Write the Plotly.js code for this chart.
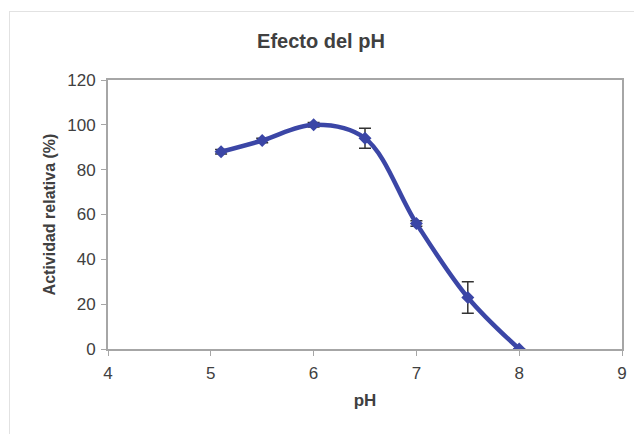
<!DOCTYPE html>
<html>
<head>
<meta charset="utf-8">
<script src="https://cdn.plot.ly/plotly-3.0.1.min.js"></script>
<style>
html,body{margin:0;padding:0;background:#fff;}
#frame{position:absolute;left:9px;top:11px;width:700px;height:500px;border:1px solid #e2e2e2;pointer-events:none;z-index:5;}
#chart{width:634px;height:434px;}
</style>
</head>
<body>
<div id="frame"></div>
<div id="chart"></div>
<script>
var phValues = [5.1, 5.5, 6, 6.5, 7, 7.5, 8];
var activity = [88, 93, 100, 94, 56, 23, 0];
var errors = [1, 1, 1, 4.5, 1.2, 7, 0];
var xTicks = [4, 5, 6, 7, 8, 9];
var yTicks = [0, 20, 40, 60, 80, 100, 120];

var trace = {
  x: phValues,
  y: activity,
  type: 'scatter',
  mode: 'lines+markers',
  line: {color: '#3b46a6', width: 4.5, shape: 'spline', smoothing: 1},
  marker: {symbol: 'diamond', size: 10, color: '#3b46a6'},
  error_y: {type: 'data', array: errors, visible: true, color: '#333333', thickness: 1.5, width: 6},
  hoverinfo: 'none'
};

var layout = {
  width: 634, height: 434,
  margin: {l: 108, r: 12, t: 80, b: 85},
  paper_bgcolor: '#ffffff',
  plot_bgcolor: '#ffffff',
  showlegend: false,
  font: {family: 'Liberation Sans, Arial, sans-serif', color: '#404040'},
  title: {text: '<b>Efecto del pH</b>', x: 321/634, xref: 'container', xanchor: 'center', y: 1 - 41/434, yref: 'container', yanchor: 'middle', font: {size: 20, color: '#404040'}},
  xaxis: {
    range: [4, 9], tickvals: xTicks, ticktext: xTicks.map(String),
    showgrid: false, zeroline: false,
    showline: true, linecolor: '#a6a6a6', linewidth: 2, mirror: true,
    ticks: 'outside', ticklen: 5, tickcolor: '#a6a6a6', tickwidth: 1,
    ticklabelstandoff: 3,
    tickfont: {size: 17, color: '#404040'},
    title: {text: '<b>pH</b>', font: {size: 17, color: '#404040'}, standoff: 12}
  },
  yaxis: {
    range: [0, 120], tickvals: yTicks, ticktext: yTicks.map(String),
    showgrid: false, zeroline: false,
    showline: true, linecolor: '#a6a6a6', linewidth: 2, mirror: true,
    ticks: 'outside', ticklen: 5, tickcolor: '#a6a6a6', tickwidth: 1,
    ticklabelstandoff: 2,
    tickfont: {size: 17, color: '#404040'},
    title: {text: '<b>Actividad relativa (%)</b>', font: {size: 16, color: '#404040'}, standoff: 8}
  }
};

Plotly.newPlot('chart', [trace], layout, {displayModeBar: false, staticPlot: true});
</script>
</body>
</html>
